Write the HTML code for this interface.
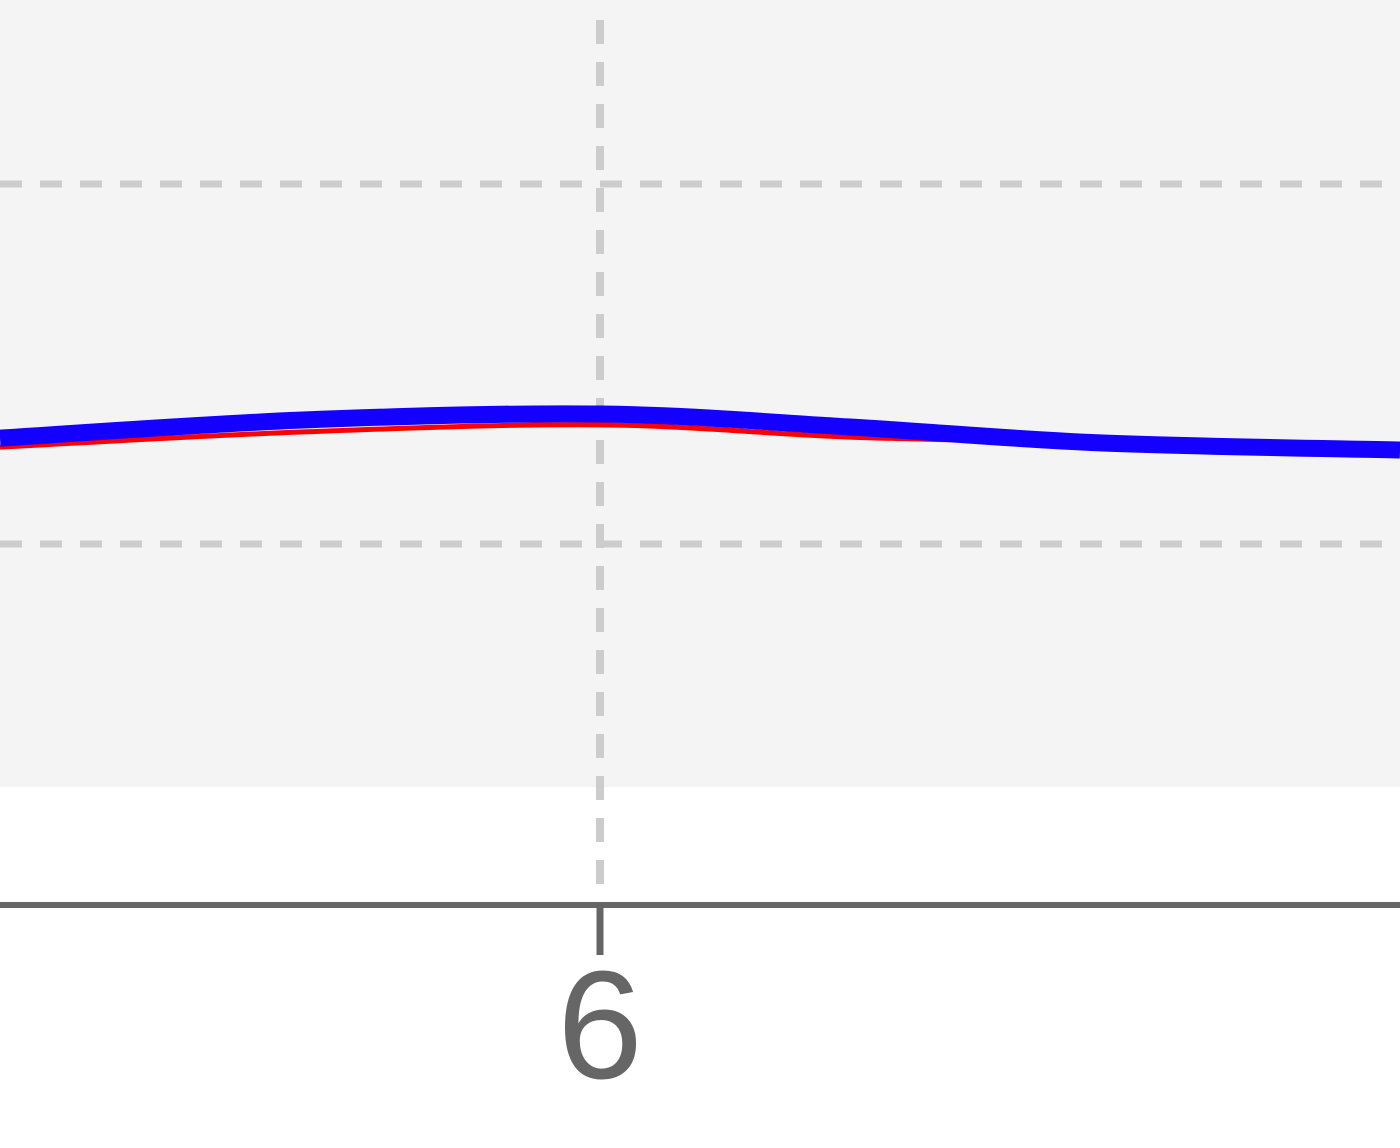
<!DOCTYPE html>
<html><head><meta charset="utf-8">
<style>
html,body{margin:0;padding:0;background:#fff;}
svg{display:block;}
</style></head>
<body>
<svg id="chart" width="1400" height="1148" viewBox="0 0 1400 1148" xmlns="http://www.w3.org/2000/svg">
  <rect x="0" y="0" width="1400" height="787" fill="#f4f4f4"/>
  <g id="grid"></g>
  <line x1="0" y1="905" x2="1400" y2="905" stroke="#666" stroke-width="6"/>
  <g id="ticks"></g>
  <g id="series"></g>
</svg>
<script>
const xs = [4.8, 5.4, 6.0, 6.5, 7.0, 7.6];
const blueValues = [1.294, 1.344, 1.361, 1.325, 1.281, 1.261];
const redValues = [1.269, 1.311, 1.331, 1.297, 1.281, 1.261];
const xTicks = [6];
const xTickLabels = ['6'];
const yGrid = [1, 2];

const NS = 'http://www.w3.org/2000/svg';
function xScale(v){ return 600 + (v - 6) * 500; }
function yScale(v){ return 544 - (v - 1) * 360; }

function mk(tag, attrs, parent){
  const e = document.createElementNS(NS, tag);
  for (const k in attrs) e.setAttribute(k, attrs[k]);
  parent.appendChild(e);
  return e;
}
const grid = document.getElementById('grid');
yGrid.forEach(v => {
  const l = mk('line', {x1:0, x2:1400, y1:yScale(v), y2:yScale(v), stroke:'#cccccc', 'stroke-width':7, 'stroke-dasharray':'22 18'}, grid);
  
  
});
xTicks.forEach(v => {
  const l = mk('line', {x1:xScale(v), x2:xScale(v), y1:20, y2:895, stroke:'#cccccc', 'stroke-width':8, 'stroke-dasharray':'24 18'}, grid);
  
  
});
const ticks = document.getElementById('ticks');
xTicks.forEach((v, i) => {
  const t = mk('line', {x1:xScale(v), x2:xScale(v), y1:905, y2:955, stroke:'#666', 'stroke-width':7}, ticks);
  
  
  const lab = mk('text', {x:xScale(v), y:1078, 'text-anchor':'middle', fill:'#666', 'font-size':154, 'font-family':'Liberation Sans, Arial, sans-serif'}, ticks);
  lab.textContent = xTickLabels[i];
  
  
});

function smoothPath(xv, yv){
  const p = xv.map((x, i) => [xScale(x), yScale(yv[i])]);
  let d = 'M' + p[0][0] + ',' + p[0][1];
  for (let i = 0; i < p.length - 1; i++){
    const p0 = p[i-1] || p[i], p1 = p[i], p2 = p[i+1], p3 = p[i+2] || p2;
    const c1 = [p1[0] + (p2[0]-p0[0])/6, p1[1] + (p2[1]-p0[1])/6];
    const c2 = [p2[0] - (p3[0]-p1[0])/6, p2[1] - (p3[1]-p1[1])/6];
    d += ' C' + c1 + ' ' + c2 + ' ' + p2;
  }
  return d;
}
const series = document.getElementById('series');
const red = mk('path', {d:smoothPath(xs, redValues), fill:'none', stroke:'#ff0000', 'stroke-width':5}, series);


const blue = mk('path', {d:smoothPath(xs, blueValues), fill:'none', stroke:'#1400ff', 'stroke-width':17}, series);


</script>
</body></html>
